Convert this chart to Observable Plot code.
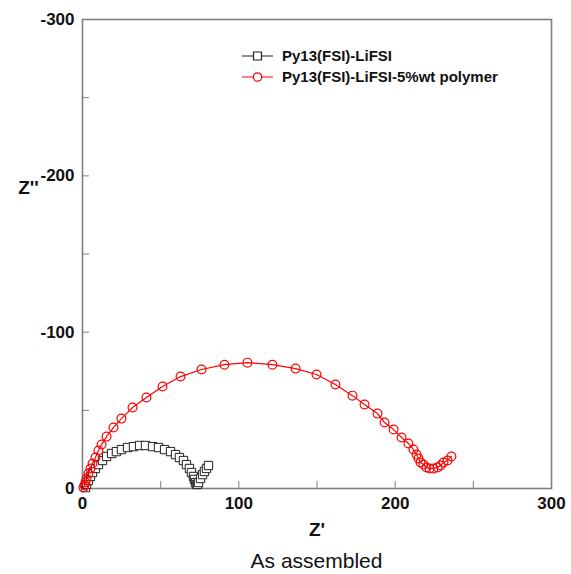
<!DOCTYPE html>
<html>
<head>
<meta charset="utf-8">
<script src="https://cdn.jsdelivr.net/npm/d3@7"></script>
<script src="https://cdn.jsdelivr.net/npm/@observablehq/plot@0.6"></script>
<style>
  body { margin: 0; background: #fff; }
  #caption {
    width: 571px; box-sizing: border-box; padding-left: 82px; padding-right: 20px;
    text-align: center; font-family: "Liberation Sans", Arial, sans-serif;
    font-size: 21px; line-height: 22px; margin-top: 5px; color: #111;
  }
</style>
</head>
<body>
<div id="chart"></div>
<div id="caption">As assembled</div>
<script>
// Nyquist data: Z' (real) and Z'' (imaginary), ohm
const seriesNames = ["Py13(FSI)-LiFSI", "Py13(FSI)-LiFSI-5%wt polymer"];

const neatRe = [1.9, 2.6, 3.8, 5.1, 6.4, 8.3, 10.2, 12.8, 15.4, 18.6, 21.7, 24.9, 28.8, 32.6, 36.5, 40.3,
  44.8, 48.6, 52.5, 56.3, 59.5, 62.0, 64.6, 66.5, 68.4, 69.7, 71.0, 71.6, 72.3, 72.9, 73.6, 74.2, 75.5,
  76.8, 78.0, 79.3, 80.6];
const neatIm = [-0.6, -2.6, -5.1, -7.7, -10.2, -12.8, -15.3, -17.9, -20.5, -22.4, -23.6, -24.9, -26.2,
  -26.8, -27.5, -27.5, -26.8, -26.2, -24.9, -23.6, -21.7, -19.8, -17.9, -15.3, -12.8, -10.2, -7.7, -5.8,
  -3.8, -2.6, -2.6, -3.8, -6.4, -8.9, -10.9, -12.8, -14.7];

const polyRe = [0.6, 1.3, 1.9, 2.6, 3.8, 5.1, 6.4, 8.3, 10.2, 12.2, 15.4, 19.8, 24.9, 32.0, 40.9, 51.2,
  62.7, 76.1, 90.8, 105.5, 121.5, 136.3, 149.7, 161.8, 172.7, 180.4, 188.7, 193.2, 199.0, 204.1, 208.5,
  211.7, 213.7, 214.9, 216.2, 218.1, 220.0, 222.0, 224.5, 227.1, 229.0, 230.9, 233.5, 236.0];
const polyIm = [-0.6, -1.9, -3.8, -6.4, -9.6, -12.8, -16.0, -19.8, -24.3, -28.1, -33.2, -39.0, -44.7,
  -51.8, -58.2, -65.2, -71.6, -76.1, -79.2, -80.5, -79.2, -76.7, -72.9, -66.5, -59.4, -53.7, -47.9,
  -42.2, -37.7, -32.6, -28.8, -24.9, -21.7, -19.2, -16.6, -15.3, -13.4, -12.8, -12.8, -13.4, -14.7,
  -16.6, -17.9, -20.5];

const xTicks = [0, 50, 100, 150, 200, 250, 300];
const yTicks = [0, -50, -100, -150, -200, -250, -300];

const neat = neatRe.map((x, i) => ({x, y: neatIm[i]}));
const poly = polyRe.map((x, i) => ({x, y: polyIm[i]}));

const labelEvery100 = d => (d % 100 === 0 ? String(d) : "");
const axisGray = "#808080";

const chart = Plot.plot({
  width: 571,
  height: 545,
  marginLeft: 82,
  marginRight: 20,
  marginTop: 19,
  marginBottom: 57,
  style: {fontFamily: "'Liberation Sans', Arial, sans-serif", color: "#111", background: "#fff"},
  x: {domain: [0, 300]},
  y: {domain: [0, -300]},
  marks: [
    Plot.axisX({ticks: xTicks, tickSize: -7, tickPadding: 15, tickFormat: labelEvery100,
      stroke: axisGray, fontSize: 17, fontWeight: "bold", label: null}),
    Plot.axisY({ticks: yTicks, tickSize: -7, tickPadding: 15, tickFormat: labelEvery100,
      stroke: axisGray, fontSize: 17, fontWeight: "bold", label: null}),
    Plot.frame({stroke: axisGray, strokeWidth: 1.6}),
    Plot.line(neat, {x: "x", y: "y", stroke: "#333", strokeWidth: 1}),
    Plot.dot(neat, {x: "x", y: "y", symbol: "square", r: 4.7, stroke: "#222", fill: "white", strokeWidth: 1}),
    Plot.line(poly, {x: "x", y: "y", stroke: "#ff0000", strokeWidth: 1.2}),
    Plot.dot(poly, {x: "x", y: "y", r: 4.4, stroke: "#ff0000", fill: "none", strokeWidth: 1.2}),
    Plot.text(["Z'"], {frameAnchor: "bottom", dy: 47, fontSize: 19, fontWeight: "bold"}),
    Plot.text(["Z''"], {frameAnchor: "left", textAnchor: "middle", dx: -54, dy: -66, fontSize: 19, fontWeight: "bold"})
  ]
});

document.getElementById("chart").appendChild(chart);

// Legend box in the upper part of the frame
const legend = d3.select(chart).append("g")
  .attr("font-family", "'Liberation Sans', Arial, sans-serif")
  .attr("font-size", 15)
  .attr("font-weight", "bold")
  .attr("text-anchor", "start");
const entries = [
  {name: seriesNames[0], color: "#222", symbol: d3.symbolSquare, size: 64, fill: "white"},
  {name: seriesNames[1], color: "#ff0000", symbol: d3.symbolCircle, size: 55, fill: "white"}
];
entries.forEach((e, i) => {
  const g = legend.append("g").attr("transform", `translate(242,${56 + i * 21})`);
  g.append("line").attr("x1", 0).attr("x2", 31).attr("stroke", e.color).attr("stroke-width", 1);
  g.append("path").attr("d", d3.symbol(e.symbol, e.size)()).attr("transform", "translate(15.5,0)")
    .attr("stroke", e.color).attr("fill", e.fill).attr("stroke-width", 1.2);
  g.append("text").attr("x", 40).attr("dy", "0.35em").attr("fill", "#111").text(e.name);
});
</script>
</body>
</html>
